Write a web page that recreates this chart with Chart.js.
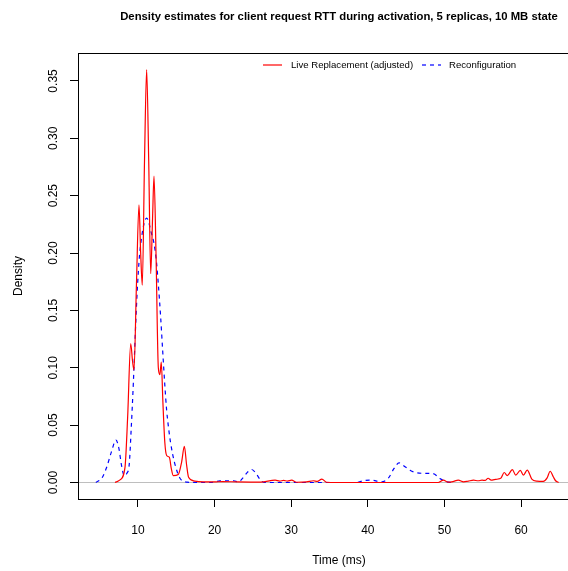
<!DOCTYPE html>
<html>
<head>
<meta charset="utf-8">
<script src="https://cdn.jsdelivr.net/npm/chart.js@4"></script>
<style>
  html, body { margin: 0; padding: 0; background: #fff; overflow: hidden; }
  #wrap { width: 600px; height: 571px; }
</style>
</head>
<body>
<div id="wrap"><canvas id="rttChart" width="600" height="571"></canvas></div>
<script>
// values
const liveTime = [7.0, 7.6, 8.3, 8.65, 9.05, 9.3, 9.48, 9.8, 10.13, 10.35, 10.56, 10.85, 11.13, 11.4, 11.66, 11.9, 12.09,
    12.35, 12.65, 12.85, 13.04, 13.25, 13.5, 13.74, 14.09, 14.35, 14.6, 15.26, 15.7, 16.05, 16.35, 16.6, 17.4, 18.5,
    20, 21, 23, 26, 27.9, 28.5, 29.0, 29.5, 30.06, 30.7, 32, 32.9, 33.4, 34.0, 34.6, 36, 45, 49.2, 49.86, 50.5, 51.1,
    51.8, 52.5, 53.1, 53.8, 54.4, 54.9, 55.3, 55.7, 56.1, 56.5, 57.0, 57.4, 57.8, 58.2, 58.86, 59.3, 59.9, 60.3, 60.8,
    61.4, 62.05, 62.9, 63.4, 63.8, 64.2, 64.5, 64.9];
const liveDensity = [0, 0.002, 0.013, 0.057, 0.121, 0.105, 0.098, 0.173, 0.242, 0.2, 0.172, 0.28, 0.36, 0.28, 0.182, 0.23, 0.267,
    0.2, 0.1005, 0.094, 0.105, 0.07, 0.035, 0.0235, 0.022, 0.012, 0.006, 0.007, 0.018, 0.0314, 0.015, 0.0046, 0.0012, 0.0005,
    0.0005, 0.0008, 0.0005, 0.0003, 0.002, 0.0012, 0.0018, 0.0012, 0.002, 0.0002, 0.0005, 0.0015, 0.001, 0.003, 0.0002, 0, 0, 0, 0.002, 0.0003, 0.0008,
    0.002, 0.0005, 0.0012, 0.002, 0.0015, 0.002, 0.0018, 0.0037, 0.002, 0.0025, 0.003, 0.004, 0.0087, 0.006, 0.0112, 0.0064, 0.0105, 0.0064, 0.0108,
    0.003, 0.0012, 0.001, 0.004, 0.0098, 0.005, 0.0015, 0];

const reconfTime = [4.5, 5.3, 5.9, 6.5, 7.13, 7.5, 7.85, 8.2, 8.55, 8.86, 9.1, 9.39, 9.65, 9.9, 10.2, 10.48, 10.8, 11.13, 11.4,
    11.66, 12.1, 12.4, 12.65, 12.95, 13.22, 13.5, 13.74, 14.0, 14.27, 14.8, 15.5, 16.4, 17.5, 19.5, 20.7, 21.6, 22.5, 23.1,
    23.7, 24.3, 24.84, 25.4, 25.9, 26.5, 30, 35, 38.5, 39.4, 40.5, 41.8, 42.7, 43.4, 44.07, 44.8, 45.5, 46.4, 47.5, 48.5,
    49.4, 50.3, 51.0];
const reconfDensity = [0, 0.004, 0.013, 0.026, 0.037, 0.03, 0.015, 0.006, 0.008, 0.016, 0.045, 0.086, 0.13, 0.167, 0.198, 0.214, 0.226, 0.2305, 0.227,
    0.2195, 0.208, 0.193, 0.173, 0.145, 0.115, 0.085, 0.063, 0.047, 0.034, 0.0165, 0.0035, 0.0003, 0, 0, 0.0014, 0.0015, 0.0015, 0.0005,
    0.004, 0.009, 0.0113, 0.008, 0.003, 0, 0, 0, 0, 0.0015, 0.002, 0.0005, 0.004, 0.012, 0.0171, 0.014, 0.0107, 0.0084, 0.008, 0.0078,
    0.0035, 0.0005, 0];

const xTicks = [10, 20, 30, 40, 50, 60];
const yTicks = [0, 0.05, 0.10, 0.15, 0.20, 0.25, 0.30, 0.35];

const FONT = "'Liberation Sans', Arial, Helvetica, sans-serif";
const RED = '#ff0000';
const BLUE = '#0000ff';

function toPoints(xs, ys) {
    return xs.map((x, i) => ({x: x, y: ys[i]}));
}

// zero line, plot box and the in-plot legend (R style)
const rFrame = {
    id: 'rFrame',
    beforeDatasetsDraw(chart) {
        const {ctx, chartArea, scales} = chart;
        const y0 = Math.round(scales.y.getPixelForValue(0)) + 0.5;
        ctx.save();
        ctx.strokeStyle = '#bebebe';
        ctx.lineWidth = 1;
        ctx.beginPath();
        ctx.moveTo(chartArea.left, y0);
        ctx.lineTo(chartArea.right, y0);
        ctx.stroke();
        ctx.restore();
    },
    afterDraw(chart) {
        const {ctx, chartArea} = chart;
        ctx.save();
        ctx.strokeStyle = '#000';
        ctx.lineWidth = 1;
        ctx.strokeRect(Math.round(chartArea.left) + 0.5, Math.round(chartArea.top) + 0.5,
            Math.round(chartArea.right - chartArea.left) + 5, Math.round(chartArea.bottom - chartArea.top));
        ctx.restore();

        // legend
        const items = [[263, 282, 291, RED, []], [422, 441, 449, BLUE, [4, 4]]];
        ctx.save();
        ctx.font = '9.6px ' + FONT;
        ctx.textBaseline = 'middle';
        ctx.textAlign = 'left';
        chart.data.datasets.forEach((ds, i) => {
            const [a, b, t, col, dash] = items[i];
            ctx.lineWidth = 1.2;
            ctx.strokeStyle = col;
            ctx.setLineDash(dash);
            ctx.beginPath();
            ctx.moveTo(a, 65);
            ctx.lineTo(b, 65);
            ctx.stroke();
            ctx.fillStyle = '#000';
            ctx.fillText(ds.label, t, 65);
        });
        ctx.restore();
    }
};

new Chart(document.getElementById('rttChart').getContext('2d'), {
    type: 'line',
    data: {
        datasets: [
            {
                label: 'Live Replacement (adjusted)',
                data: toPoints(liveTime, liveDensity),
                borderColor: RED,
                borderWidth: 1.2,
                cubicInterpolationMode: 'monotone',
                fill: false
            },
            {
                label: 'Reconfiguration',
                data: toPoints(reconfTime, reconfDensity),
                borderColor: BLUE,
                borderWidth: 1.2,
                borderDash: [4, 4],
                cubicInterpolationMode: 'monotone',
                fill: false
            }
        ]
    },
    options: {
        responsive: false,
        animation: false,
        events: [],
        elements: {point: {radius: 0}},
        layout: {padding: {left: 0, right: 0, top: 0, bottom: 0}},
        plugins: {
            legend: {display: false},
            tooltip: {enabled: false},
            title: {
                display: true,
                text: 'Density estimates for client request RTT during activation, 5 replicas, 10 MB state',
                fullSize: false,
                color: '#000',
                font: {family: FONT, size: 11.3, weight: 'bold'},
                padding: {top: 10, bottom: 29.4}
            }
        },
        scales: {
            x: {
                type: 'linear',
                min: 2.17,
                max: 70.3,
                afterBuildTicks: s => { s.ticks = xTicks.map(v => ({value: v})); },
                afterFit: s => { s.height = 72; },
                border: {display: false},
                grid: {drawOnChartArea: false, drawTicks: true, tickLength: 8, tickColor: '#000'},
                ticks: {color: '#000', font: {family: FONT, size: 12}, padding: 16, maxRotation: 0,
                    callback: v => String(v)},
                title: {display: true, text: 'Time (ms)', color: '#000', font: {family: FONT, size: 12},
                    padding: {top: 0, bottom: 3}}
            },
            y: {
                min: -0.0144,
                max: 0.3744,
                afterBuildTicks: s => { s.ticks = yTicks.map(v => ({value: v})); },
                afterFit: s => { s.width = 78; },
                border: {display: false},
                grid: {drawOnChartArea: false, drawTicks: true, tickLength: 8, tickColor: '#000'},
                ticks: {color: '#000', font: {family: FONT, size: 12}, padding: 5,
                    minRotation: 90, maxRotation: 90, crossAlign: 'center',
                    callback: v => v.toFixed(2)},
                title: {display: true, text: 'Density', color: '#000', font: {family: FONT, size: 12},
                    padding: {top: 11, bottom: 0}}
            }
        }
    },
    plugins: [rFrame]
});
</script>
</body>
</html>
